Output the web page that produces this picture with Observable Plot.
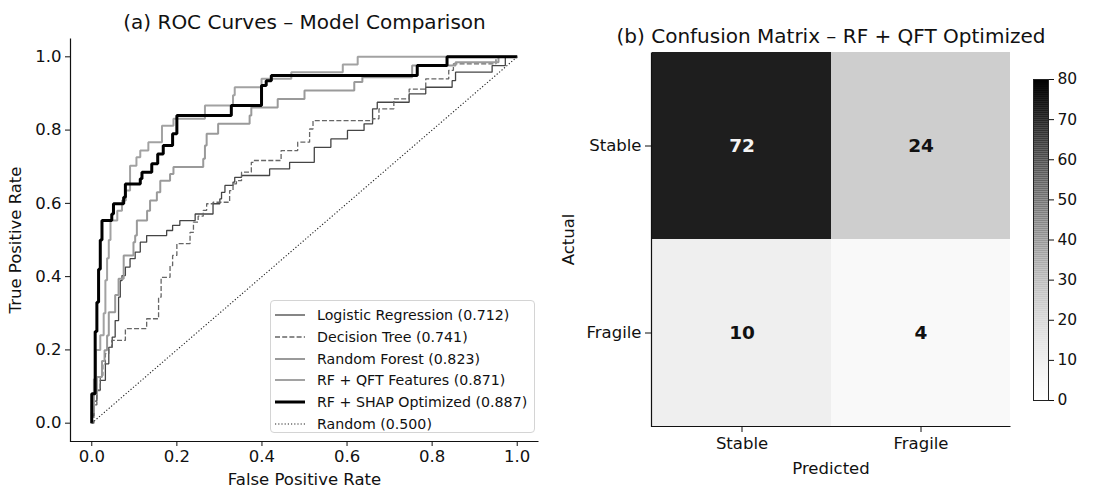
<!DOCTYPE html>
<html><head><meta charset="utf-8">
<script src="https://cdn.jsdelivr.net/npm/d3@7"></script>
<script src="https://cdn.jsdelivr.net/npm/@observablehq/plot@0.6"></script>
<style>
html,body{margin:0;padding:0;background:#fff;}
#wrap{position:relative;width:1105px;height:489px;overflow:hidden;font-family:"DejaVu Sans",sans-serif;}
#wrap svg.chart{position:absolute;top:0;}
#wrap .legend{position:absolute;left:270px;top:300px;width:265px;height:133px;border:1px solid #d4d4d4;border-radius:4px;background:rgba(255,255,255,0.85);box-sizing:border-box;font-size:14.2px;color:#111;}
#wrap .legend .row{position:absolute;left:0;height:20px;display:flex;align-items:center;white-space:nowrap;}
#wrap .legend .row svg{position:static;display:block;margin-left:4px;margin-right:12px;}
</style></head>
<body><div id="wrap"></div>
<script>
// ---------- data ----------
const modelNames = ["Logistic Regression","Decision Tree","Random Forest","RF + QFT Features","RF + SHAP Optimized","Random"];
const aucValues = [0.712,0.741,0.823,0.871,0.887,0.500];
const rocTicks = [0,0.2,0.4,0.6,0.8,1.0];
const rocDomain = [-0.05,1.05];

const rocLR = [[0,0],[0,0.02],[0.005,0.02],[0.005,0.06],[0.012,0.06],[0.012,0.09],[0.02,0.09],[0.02,0.117],[0.032,0.117],[0.032,0.162],[0.04,0.162],[0.04,0.207],[0.048,0.207],[0.048,0.235],[0.055,0.235],[0.055,0.28],[0.063,0.28],[0.063,0.344],[0.067,0.344],[0.067,0.389],[0.071,0.389],[0.071,0.403],[0.079,0.403],[0.079,0.426],[0.09,0.426],[0.09,0.449],[0.102,0.449],[0.102,0.467],[0.114,0.467],[0.114,0.494],[0.129,0.494],[0.129,0.512],[0.176,0.512],[0.176,0.526],[0.19,0.526],[0.19,0.54],[0.207,0.54],[0.207,0.553],[0.243,0.553],[0.243,0.571],[0.285,0.571],[0.285,0.599],[0.301,0.599],[0.301,0.612],[0.305,0.612],[0.305,0.63],[0.313,0.63],[0.313,0.649],[0.332,0.649],[0.332,0.658],[0.336,0.658],[0.336,0.671],[0.352,0.671],[0.352,0.676],[0.418,0.676],[0.418,0.694],[0.465,0.694],[0.465,0.712],[0.523,0.712],[0.523,0.753],[0.562,0.753],[0.562,0.776],[0.601,0.776],[0.601,0.799],[0.64,0.799],[0.64,0.817],[0.66,0.817],[0.66,0.858],[0.671,0.858],[0.671,0.876],[0.746,0.876],[0.746,0.899],[0.785,0.899],[0.785,0.917],[0.847,0.917],[0.847,0.935],[0.855,0.935],[0.855,0.958],[0.941,0.958],[0.941,0.976],[0.972,0.976],[0.972,1],[1,1]];

const rocDT = [[0,0],[0.005,0],[0.005,0.05],[0.012,0.05],[0.012,0.089],[0.02,0.089],[0.02,0.13],[0.026,0.13],[0.026,0.162],[0.032,0.162],[0.032,0.19],[0.04,0.19],[0.04,0.207],[0.047,0.207],[0.047,0.226],[0.079,0.226],[0.079,0.258],[0.129,0.258],[0.129,0.285],[0.157,0.285],[0.157,0.344],[0.163,0.344],[0.163,0.398],[0.184,0.398],[0.184,0.43],[0.19,0.43],[0.19,0.458],[0.2,0.458],[0.2,0.49],[0.231,0.49],[0.231,0.521],[0.239,0.521],[0.239,0.549],[0.25,0.549],[0.25,0.565],[0.262,0.565],[0.262,0.581],[0.27,0.581],[0.27,0.599],[0.285,0.599],[0.285,0.603],[0.324,0.603],[0.324,0.635],[0.332,0.635],[0.332,0.653],[0.34,0.653],[0.34,0.662],[0.352,0.662],[0.352,0.685],[0.375,0.685],[0.375,0.712],[0.379,0.712],[0.379,0.717],[0.445,0.717],[0.445,0.744],[0.484,0.744],[0.484,0.767],[0.512,0.767],[0.512,0.803],[0.52,0.803],[0.52,0.826],[0.66,0.826],[0.66,0.831],[0.675,0.831],[0.675,0.858],[0.71,0.858],[0.71,0.885],[0.746,0.885],[0.746,0.912],[0.785,0.912],[0.785,0.94],[0.839,0.94],[0.839,0.963],[0.85,0.963],[0.85,0.981],[0.95,0.981],[0.95,1],[1,1]];

const rocRF = [[0,0],[0,0.03],[0.005,0.03],[0.005,0.08],[0.012,0.08],[0.012,0.126],[0.024,0.126],[0.024,0.17],[0.03,0.17],[0.03,0.199],[0.036,0.199],[0.036,0.239],[0.04,0.239],[0.04,0.303],[0.055,0.303],[0.055,0.35],[0.063,0.35],[0.063,0.394],[0.075,0.394],[0.075,0.458],[0.098,0.458],[0.098,0.494],[0.102,0.494],[0.102,0.512],[0.106,0.512],[0.106,0.553],[0.13,0.553],[0.13,0.58],[0.137,0.58],[0.137,0.608],[0.153,0.608],[0.153,0.63],[0.161,0.63],[0.161,0.662],[0.184,0.662],[0.184,0.68],[0.192,0.68],[0.192,0.699],[0.262,0.699],[0.262,0.722],[0.266,0.722],[0.266,0.758],[0.27,0.758],[0.27,0.79],[0.297,0.79],[0.297,0.817],[0.371,0.817],[0.371,0.84],[0.375,0.84],[0.375,0.862],[0.437,0.862],[0.437,0.885],[0.5,0.885],[0.5,0.908],[0.617,0.908],[0.617,0.931],[0.636,0.931],[0.636,0.944],[0.753,0.944],[0.753,0.976],[0.855,0.976],[0.855,0.985],[0.956,0.985],[0.956,1],[1,1]];

const rocQFT = [[0,0],[0,0.05],[0.005,0.05],[0.005,0.12],[0.01,0.12],[0.01,0.2],[0.02,0.2],[0.02,0.24],[0.028,0.24],[0.028,0.3],[0.032,0.3],[0.032,0.39],[0.036,0.39],[0.036,0.45],[0.04,0.45],[0.04,0.5],[0.044,0.5],[0.044,0.553],[0.06,0.553],[0.06,0.58],[0.071,0.58],[0.071,0.608],[0.08,0.608],[0.08,0.635],[0.09,0.635],[0.09,0.703],[0.105,0.703],[0.105,0.726],[0.114,0.726],[0.114,0.744],[0.133,0.744],[0.133,0.767],[0.165,0.767],[0.165,0.812],[0.192,0.812],[0.192,0.831],[0.266,0.831],[0.266,0.867],[0.332,0.867],[0.332,0.895],[0.336,0.895],[0.336,0.917],[0.399,0.917],[0.399,0.94],[0.469,0.94],[0.469,0.958],[0.59,0.958],[0.59,0.979],[0.625,0.979],[0.625,1],[1,1]];

const rocSHAP = [[0,0],[0,0.08],[0.008,0.08],[0.008,0.25],[0.012,0.25],[0.012,0.33],[0.016,0.33],[0.016,0.42],[0.02,0.42],[0.02,0.5],[0.024,0.5],[0.024,0.553],[0.047,0.553],[0.047,0.571],[0.051,0.571],[0.051,0.599],[0.075,0.599],[0.075,0.617],[0.079,0.617],[0.079,0.653],[0.114,0.653],[0.114,0.667],[0.118,0.667],[0.118,0.685],[0.141,0.685],[0.141,0.708],[0.155,0.708],[0.155,0.735],[0.168,0.735],[0.168,0.758],[0.19,0.758],[0.19,0.79],[0.2,0.79],[0.2,0.84],[0.328,0.84],[0.328,0.867],[0.399,0.867],[0.399,0.922],[0.41,0.922],[0.41,0.935],[0.422,0.935],[0.422,0.949],[0.765,0.949],[0.765,0.976],[0.835,0.976],[0.835,1],[1,1]];

const rocRandom = [[0,0],[1,1]];

const cmActual = ["Stable","Fragile"];
const cmPredicted = ["Stable","Fragile"];
const cmValues = [[72,24],[10,4]];
const cbTicks = [0,10,20,30,40,50,60,70,80];
const cbDomain = [0,80];

const titleA = "(a) ROC Curves \u2013 Model Comparison";
const titleB = "(b) Confusion Matrix \u2013 RF + QFT Optimized";

// ---------- styles ----------
const seriesPts = [rocLR, rocDT, rocRF, rocQFT, rocSHAP, rocRandom];
const seriesStyle = [
  {stroke:"#454545", strokeWidth:1.3, dash:null},
  {stroke:"#666666", strokeWidth:1.3, dash:"5,2.2"},
  {stroke:"#9a9a9a", strokeWidth:2, dash:null},
  {stroke:"#a2a2a2", strokeWidth:2, dash:null},
  {stroke:"#000000", strokeWidth:3, dash:null},
  {stroke:"#222222", strokeWidth:1.1, dash:"1.2,2"}
];
const font = '"DejaVu Sans", sans-serif';
const tickFont = 16.5;
const wrap = document.getElementById("wrap");

// ---------- ROC ----------
const W1=560,H1=489,L1=70,R1=22,T1=38,B1=48;
const fw1=W1-L1-R1, fh1=H1-T1-B1;
const lineMarks = seriesPts.map((pts,i)=>Plot.line(pts,{x:d=>d[0],y:d=>d[1],stroke:seriesStyle[i].stroke,strokeWidth:seriesStyle[i].strokeWidth,strokeDasharray:seriesStyle[i].dash||undefined,strokeLinejoin:"miter",strokeLinecap:"butt"}));
const roc = Plot.plot({
  width:W1,height:H1,marginLeft:L1,marginRight:R1,marginTop:T1,marginBottom:B1,
  style:{fontFamily:font,fontSize:tickFont+"px",color:"#111",background:"transparent",overflow:"visible"},
  x:{domain:rocDomain},
  y:{domain:rocDomain},
  marks:[
    ...lineMarks,
    Plot.frame({stroke:"#111",strokeWidth:1.2,strokeDasharray:`0 ${fw1+fh1} ${fw1+fh1}`}),
    Plot.axisX({ticks:rocTicks,tickFormat:".1f",tickSize:5,tickPadding:4,fontSize:tickFont,label:"False Positive Rate",labelAnchor:"center",labelArrow:"none",labelOffset:43}),
    Plot.axisY({ticks:rocTicks,tickFormat:".1f",tickSize:5,tickPadding:4,fontSize:tickFont,label:"True Positive Rate",labelAnchor:"center",labelArrow:"none",labelOffset:61}),
    Plot.text([titleA],{text:d=>d,frameAnchor:"top",lineAnchor:"middle",dy:-16,fontSize:20})
  ]
});
roc.classList.add("chart");
roc.style.left="0px";
wrap.appendChild(roc);

// legend
const leg = document.createElement("div");
leg.className="legend";
modelNames.forEach((name,i)=>{
  const row=document.createElement("div");
  row.className="row";
  row.style.top=(4+i*21.8)+"px";
  const s=seriesStyle[i];
  row.innerHTML=`<svg width="30" height="10"><line x1="0" y1="5" x2="30" y2="5" stroke="${s.stroke}" stroke-width="${s.strokeWidth}" ${s.dash?`stroke-dasharray="${s.dash}"`:""}/></svg><span>${name} (${aucValues[i].toFixed(3)})</span>`;
  leg.appendChild(row);
});
wrap.appendChild(leg);

// ---------- Confusion matrix ----------
const cmTable = [];
cmActual.forEach((a,i)=>cmPredicted.forEach((p,j)=>cmTable.push({actual:a,pred:p,value:cmValues[i][j]})));
const colorOpts = {type:"linear",scheme:"greys",domain:cbDomain};
const W2=470,H2=489,L2=91,R2=20,T2=52,B2=63;
const fw2=W2-L2-R2, fh2=H2-T2-B2;
const hm = Plot.plot({
  width:W2,height:H2,marginLeft:L2,marginRight:R2,marginTop:T2,marginBottom:B2,
  style:{fontFamily:font,fontSize:tickFont+"px",color:"#111",background:"transparent",overflow:"visible"},
  x:{domain:cmPredicted,padding:0},
  y:{domain:cmActual,padding:0},
  color:colorOpts,
  marks:[
    Plot.cell(cmTable,{x:"pred",y:"actual",fill:"value",inset:0}),
    Plot.text(cmTable.filter(d=>d.value>=40),{x:"pred",y:"actual",text:d=>String(d.value),fill:"#f4f4f4",fontWeight:"bold",fontSize:18.5}),
    Plot.text(cmTable.filter(d=>d.value<40),{x:"pred",y:"actual",text:d=>String(d.value),fill:"#111",fontWeight:"bold",fontSize:18.5}),
    Plot.frame({stroke:"#111",strokeWidth:1.2,strokeDasharray:`0 ${fw2+fh2} ${fw2+fh2}`}),
    Plot.axisX({tickSize:6,tickPadding:5,fontSize:tickFont,label:"Predicted",labelAnchor:"center",labelArrow:"none",labelOffset:47}),
    Plot.axisY({tickSize:6,tickPadding:4,fontSize:tickFont,label:"Actual",labelAnchor:"center",labelArrow:"none",labelOffset:89}),
    Plot.text([titleB],{text:d=>d,frameAnchor:"top",lineAnchor:"middle",dy:-16,fontSize:20})
  ]
});
hm.classList.add("chart");
hm.style.left="560px";
wrap.appendChild(hm);

// ---------- Colorbar ----------
const cbStep = 0.5;
const cbRamp = d3.range(cbDomain[0],cbDomain[1],cbStep);
const W3=105,H3=489,L3=33,R3=57,T3=79,B3=89;
const cb = Plot.plot({
  width:W3,height:H3,marginLeft:L3,marginRight:R3,marginTop:T3,marginBottom:B3,
  style:{fontFamily:font,fontSize:"15.5px",color:"#111",background:"transparent",overflow:"visible"},
  y:{domain:cbDomain},
  color:colorOpts,
  marks:[
    Plot.rect(cbRamp,{y1:d=>d,y2:d=>d+cbStep,fill:d=>d+cbStep/2}),
    Plot.frame({stroke:"#222",strokeWidth:1}),
    Plot.axisY({anchor:"right",ticks:cbTicks,tickSize:5,tickPadding:4,fontSize:15.5,label:null})
  ]
});
cb.classList.add("chart");
cb.style.left="1000px";
wrap.appendChild(cb);
</script></body></html>
